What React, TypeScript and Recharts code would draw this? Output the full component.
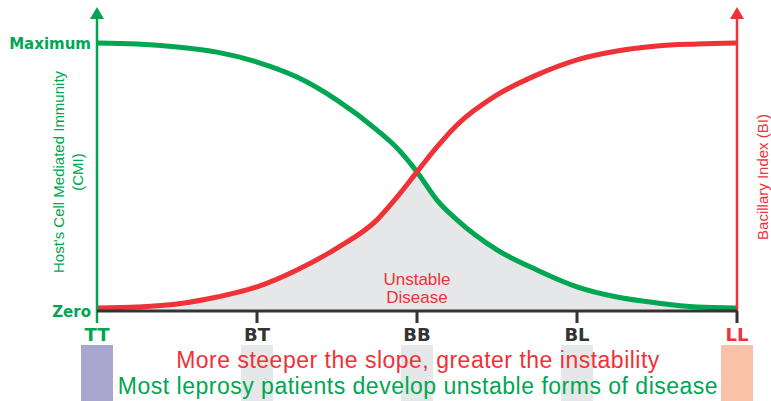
import {
  Area,
  ComposedChart,
  Line,
  ReferenceArea,
  ReferenceLine,
  XAxis,
  YAxis,
} from "recharts";

const GREEN = "#00a651";
const RED = "#ee3238";
const DARK = "#333333";
const SHADE = "#e6e7e8";
const SANS = "'Liberation Sans', Arial, sans-serif";
const BOLD = "'DejaVu Sans', sans-serif";

const STAGES = ["TT", "BT", "BB", "BL", "LL"];
const STAGE_COLORS = [GREEN, DARK, DARK, DARK, RED];
const BOX_COLORS = ["#aaa7cf", SHADE, SHADE, SHADE, "#f9c1a8"];

const CMI_LABELS = ["Zero", "Maximum"];
const BI_LABELS = ["0", "6+"];

// position along the spectrum (0 = TT, 1 = BT, 2 = BB, 3 = BL, 4 = LL)
const POSITIONS = [0, 0.25, 0.5, 0.75, 1, 1.25, 1.5, 1.75, 1.875, 2, 2.125, 2.25, 2.5, 2.75, 3, 3.25, 3.5, 3.75, 4];
// host's cell mediated immunity, % of maximum
const CMI = [100, 99.6, 98.5, 96.6, 92.9, 87.3, 78.7, 67.5, 60.8, 51.9, 41.4, 34.0, 22.8, 15.3, 9.0, 5.2, 3.0, 1.5, 1.1];
// bacillary index, % of 6+
const BI = [1.1, 1.5, 2.6, 5.2, 9.0, 15.3, 23.5, 34.0, 42.5, 51.9, 61.2, 69.4, 80.6, 88.1, 93.7, 97.0, 98.9, 99.6, 100];

const data = POSITIONS.map((x, i) => ({
  x,
  cmi: CMI[i],
  bi: BI[i],
  unstable: Math.min(CMI[i], BI[i]),
}));

function arrowAxis(color: string) {
  return (props: any) => {
    const { x1, y1, y2 } = props;
    const top = Math.min(y1, y2);
    const bottom = Math.max(y1, y2);
    return (
      <g>
        <line x1={x1} x2={x1} y1={bottom} y2={top} stroke={color} strokeWidth={2.5} />
        <polygon
          points={`${x1 - 7},${top + 1} ${x1 + 7},${top + 1} ${x1},${top - 11}`}
          fill={color}
        />
      </g>
    );
  };
}

function StageTick(props: any) {
  const { x, y, payload } = props;
  const i = Number(payload.value);
  return (
    <g>
      {i > 0 && (
        <line x1={x} x2={x} y1={y} y2={y + 12} stroke={DARK} strokeWidth={3} />
      )}
      <text
        x={x}
        y={y + 30}
        textAnchor="middle"
        fill={STAGE_COLORS[i]}
        fontFamily={BOLD}
        fontWeight="bold"
        fontSize={18}
      >
        {STAGES[i]}
      </text>
    </g>
  );
}

function LeftTick(props: any) {
  const { x, y, payload } = props;
  return (
    <text
      x={x - 6}
      y={y + 5.5}
      textAnchor="end"
      fill={GREEN}
      fontFamily={BOLD}
      fontWeight="bold"
      fontSize={15}
    >
      {CMI_LABELS[payload.value === 100 ? 1 : 0]}
    </text>
  );
}

function RightTick(props: any) {
  const { x, y, payload } = props;
  return (
    <text
      x={x + 13}
      y={y + 5.5}
      textAnchor="start"
      fill={RED}
      fontFamily={BOLD}
      fontWeight="bold"
      fontSize={15}
    >
      {BI_LABELS[payload.value === 100 ? 1 : 0]}
    </text>
  );
}

// free text sits in an overlay so it stays above the stage boxes
function Annotations() {
  return (
    <svg
      width={771}
      height={401}
      style={{ position: "absolute", left: 0, top: 0, pointerEvents: "none" }}
    >
      <text x={417} y={285} textAnchor="middle" fill={RED} fontFamily={SANS} fontSize={17}>
        Unstable
      </text>
      <text x={417} y={303} textAnchor="middle" fill={RED} fontFamily={SANS} fontSize={17}>
        Disease
      </text>
      <text
        x={58}
        y={172}
        textAnchor="middle"
        dominantBaseline="central"
        transform="rotate(-90 58 172)"
        fill={GREEN}
        fontFamily={SANS}
        fontSize={15}
      >
        Host's Cell Mediated Immunity
      </text>
      <text
        x={77}
        y={172}
        textAnchor="middle"
        dominantBaseline="central"
        transform="rotate(-90 77 172)"
        fill={GREEN}
        fontFamily={SANS}
        fontSize={15}
      >
        (CMI)
      </text>
      <text
        x={762}
        y={177}
        textAnchor="middle"
        dominantBaseline="central"
        transform="rotate(-90 762 177)"
        fill={RED}
        fontFamily={SANS}
        fontSize={15}
      >
        Bacillary Index (BI)
      </text>
      <text
        x={418}
        y={368}
        textAnchor="middle"
        fill={RED}
        fontFamily={SANS}
        fontSize={23}
        letterSpacing={0.5}
      >
        More steeper the slope, greater the instability
      </text>
      <text
        x={418}
        y={394}
        textAnchor="middle"
        fill={GREEN}
        fontFamily={SANS}
        fontSize={23}
        letterSpacing={0.5}
      >
        Most leprosy patients develop unstable forms of disease
      </text>
    </svg>
  );
}

export default function App() {
  return (
    <div style={{ position: "absolute", left: 0, top: 0, width: 771, height: 401, background: "#fff" }}>
      <ComposedChart
        width={771}
        height={401}
        data={data}
        margin={{ top: 43, right: 0, bottom: 60, left: 0 }}
      >
        {STAGES.map((s, i) => (
          <ReferenceArea
            key={s}
            yAxisId="left"
            x1={i - 0.1}
            x2={i + 0.1}
            y1={-12.7}
            y2={-36}
            ifOverflow="visible"
            fill={BOX_COLORS[i]}
            fillOpacity={1}
            stroke="none"
          />
        ))}
        <XAxis
          dataKey="x"
          type="number"
          domain={[0, 4]}
          ticks={[0, 1, 2, 3, 4]}
          interval={0}
          height={30}
          tickLine={false}
          tickSize={0}
          tickMargin={0}
          axisLine={{ stroke: DARK, strokeWidth: 3 }}
          tick={(p: any) => <StageTick {...p} />}
        />
        <YAxis
          yAxisId="left"
          domain={[0, 100]}
          ticks={[0, 100]}
          width={97}
          axisLine={false}
          tickLine={false}
          tickSize={0}
          tickMargin={0}
          tick={(p: any) => <LeftTick {...p} />}
        />
        <YAxis
          yAxisId="right"
          orientation="right"
          domain={[0, 100]}
          ticks={[0, 100]}
          width={34}
          axisLine={false}
          tickLine={false}
          tickSize={0}
          tickMargin={0}
          tick={(p: any) => <RightTick {...p} />}
        />
        <Area
          yAxisId="left"
          type="monotone"
          dataKey="unstable"
          fill={SHADE}
          fillOpacity={1}
          stroke="none"
          isAnimationActive={false}
        />
        <Line
          yAxisId="left"
          type="monotone"
          dataKey="cmi"
          stroke={GREEN}
          strokeWidth={5}
          dot={false}
          isAnimationActive={false}
        />
        <Line
          yAxisId="left"
          type="monotone"
          dataKey="bi"
          stroke={RED}
          strokeWidth={5}
          dot={false}
          isAnimationActive={false}
        />
        <ReferenceLine
          yAxisId="left"
          segment={[{ x: 0, y: -4.5 }, { x: 0, y: 109.3 }]}
          ifOverflow="visible"
          shape={arrowAxis(GREEN)}
        />
        <ReferenceLine
          yAxisId="left"
          segment={[{ x: 4, y: 0 }, { x: 4, y: 109.3 }]}
          ifOverflow="visible"
          shape={arrowAxis(RED)}
        />
      </ComposedChart>
      <Annotations />
    </div>
  );
}
